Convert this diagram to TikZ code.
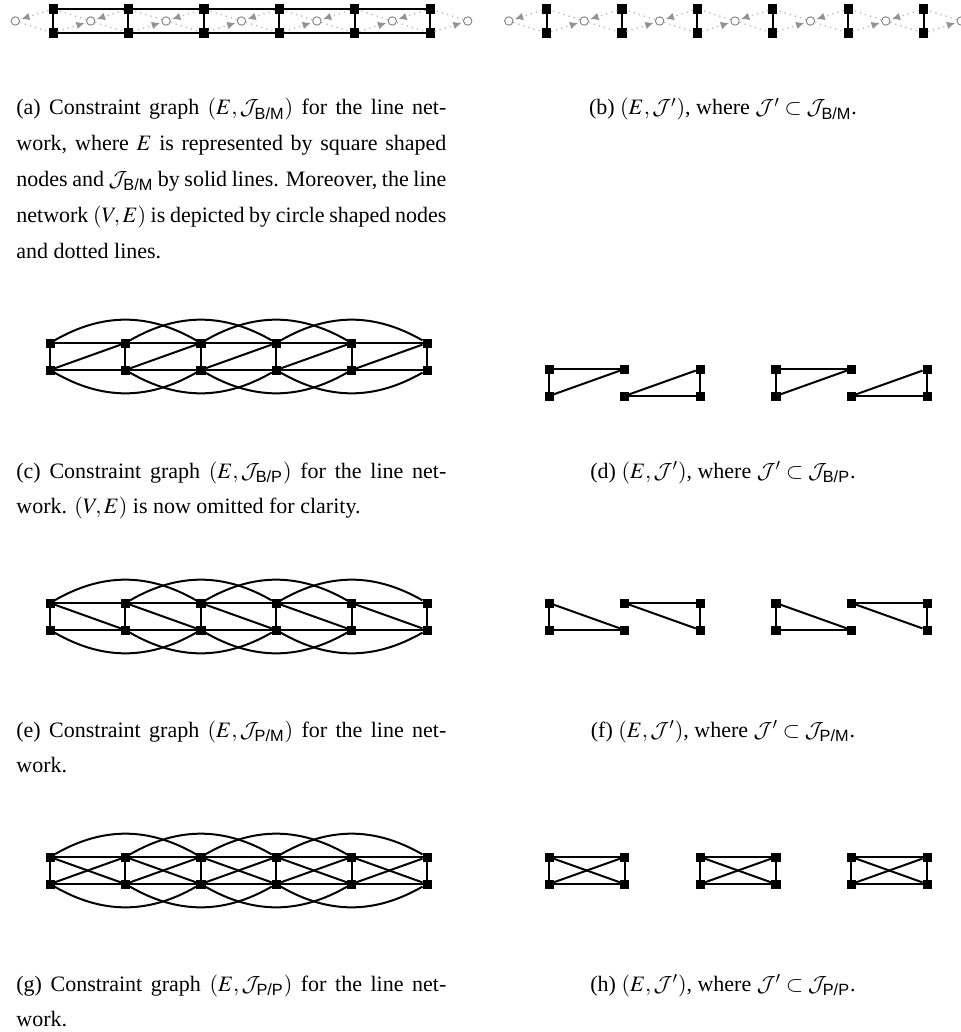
\documentclass[tikz,border=0pt]{standalone}
\usepackage{mathptmx}
\usepackage{amsmath}
\usepackage{fontspec}
\setmainfont{Liberation Serif}
\setsansfont{Liberation Sans}
\DeclareMathAlphabet{\mathcal}{OMS}{cmsy}{m}{n}
\usetikzlibrary{arrows.meta}
\newcommand{\JS}[1]{\mathcal{J}_{\text{\sffamily #1}}}
\begin{document}
\begin{tikzpicture}[x=0.5pt,y=-0.5pt,
 sq/.style={rectangle,draw=black,fill=black,minimum size=4.1pt,inner sep=0pt,line width=0.4pt},
 circ/.style={circle,draw=gray,fill=white,minimum size=4.2pt,inner sep=0pt,line width=0.45pt},
 con/.style={line width=1pt,black},
 net/.style={gray!55,dotted,line width=0.65pt},
 netarr/.style={net,-{Latex[length=4.2pt,width=3.8pt,color=gray!85]},shorten >=0.8pt},
 capfont/.style={font=\fontsize{11}{17.9}\selectfont},
 captext/.style={capfont,inner sep=0pt,anchor=base west,text width=215pt,align=justify},
 rcaptext/.style={capfont,inner sep=0pt,anchor=base}
]
\useasboundingbox (0,0) rectangle (961,1032);

% ---------- (a) and (b): line network ----------
\foreach \p/\xs/\xc in {a/53/15.3, b/546.5/508.8}{
  \foreach \k in {0,...,5}{
    \node[sq] (\p T\k) at ({\xs+75.4*\k},9) {};
    \node[sq] (\p B\k) at ({\xs+75.4*\k},33) {};
  }
  \foreach \k in {0,...,6}{
    \node[circ] (\p C\k) at ({\xc+75.4*\k},21) {};
  }
  \foreach \k [evaluate=\k as \kk using int(\k+1)] in {0,...,5}{
    \draw[net] (\p C\kk) -- (\p T\k);
    \draw[netarr] (\p T\k) -- (\p C\k);
    \draw[net] (\p C\k) -- (\p B\k);
    \draw[netarr] (\p B\k) -- (\p C\kk);
    \draw[con] (\p T\k) -- (\p B\k);
  }
}
\foreach \k [evaluate=\k as \kk using int(\k+1)] in {0,...,4}{
  \draw[con] (aT\k) -- (aT\kk);
  \draw[con] (aB\k) -- (aB\kk);
}

% ---------- full constraint graphs (c), (e), (g) ----------
\foreach \p/\yt/\yb in {c/343/370, e/603/630, g/857/884}{
  \foreach \k in {0,...,5}{
    \node[sq] (\p T\k) at ({50+75.4*\k},\yt) {};
    \node[sq] (\p B\k) at ({50+75.4*\k},\yb) {};
  }
  \foreach \k in {0,...,5}{
    \draw[con] (\p T\k) -- (\p B\k);
  }
  \foreach \k [evaluate=\k as \kk using int(\k+1)] in {0,...,4}{
    \draw[con] (\p T\k) -- (\p T\kk);
    \draw[con] (\p B\k) -- (\p B\kk);
  }
  \foreach \k [evaluate=\k as \kk using int(\k+2)] in {0,...,3}{
    \draw[con] (\p T\k) to[bend left=30] (\p T\kk);
    \draw[con] (\p B\k) to[bend right=30] (\p B\kk);
  }
}
\foreach \k [evaluate=\k as \kk using int(\k+1)] in {0,...,4}{
  \draw[con] (cB\k) -- (cT\kk);
  \draw[con] (eT\k) -- (eB\kk);
  \draw[con] (gT\k) -- (gB\kk);
  \draw[con] (gB\k) -- (gT\kk);
}

% ---------- subsets (d), (f), (h) ----------
\foreach \p/\yt/\yb in {d/369/396, f/603/630, h/857/884}{
  \foreach \k in {0,...,5}{
    \node[sq] (\p T\k) at ({549+75.6*\k},\yt) {};
    \node[sq] (\p B\k) at ({549+75.6*\k},\yb) {};
  }
}
% (d)
\foreach \i/\j in {0/1, 3/4}{
  \draw[con] (dT\i) -- (dT\j);
  \draw[con] (dT\i) -- (dB\i);
  \draw[con] (dB\i) -- (dT\j);
}
\foreach \i/\j in {1/2, 4/5}{
  \draw[con] (dB\i) -- (dB\j);
  \draw[con] (dB\i) -- (dT\j);
  \draw[con] (dT\j) -- (dB\j);
}
% (f)
\foreach \i/\j in {0/1, 3/4}{
  \draw[con] (fT\i) -- (fB\i);
  \draw[con] (fB\i) -- (fB\j);
  \draw[con] (fT\i) -- (fB\j);
}
\foreach \i/\j in {1/2, 4/5}{
  \draw[con] (fT\i) -- (fT\j);
  \draw[con] (fT\i) -- (fB\j);
  \draw[con] (fT\j) -- (fB\j);
}
% (h)
\foreach \i/\j in {0/1, 2/3, 4/5}{
  \draw[con] (hT\i) -- (hT\j);
  \draw[con] (hB\i) -- (hB\j);
  \draw[con] (hT\i) -- (hB\i);
  \draw[con] (hT\j) -- (hB\j);
  \draw[con] (hT\i) -- (hB\j);
  \draw[con] (hB\i) -- (hT\j);
}

% ---------- captions ----------
\node[captext] (capa) at (16,115) {(a) Constraint graph $(E,\JS{B/M})$ for the line net-\linebreak work, where $E$ is represented by square shaped\linebreak nodes and $\JS{B/M}$ by solid lines. Moreover, the line\linebreak network $(V,E)$ is depicted by circle shaped nodes\linebreak and dotted lines.};
\node[rcaptext] (capb) at (723,115) {(b) $(E,\mathcal{J}')$, where $\mathcal{J}'\subset\JS{B/M}$.};

\node[captext] (capc) at (16,478) {(c) Constraint graph $(E,\JS{B/P})$ for the line net-\linebreak work. $(V,E)$ is now omitted for clarity.};
\node[rcaptext] (capd) at (723,478) {(d) $(E,\mathcal{J}')$, where $\mathcal{J}'\subset\JS{B/P}$.};

\node[captext] (cape) at (16,737) {(e) Constraint graph $(E,\JS{P/M})$ for the line net-\linebreak work.};
\node[rcaptext] (capf) at (723,737) {(f) $(E,\mathcal{J}')$, where $\mathcal{J}'\subset\JS{P/M}$.};

\node[captext] (capg) at (16,991) {(g) Constraint graph $(E,\JS{P/P})$ for the line net-\linebreak work.};
\node[rcaptext] (caph) at (723,991) {(h) $(E,\mathcal{J}')$, where $\mathcal{J}'\subset\JS{P/P}$.};
\end{tikzpicture}
\end{document}
